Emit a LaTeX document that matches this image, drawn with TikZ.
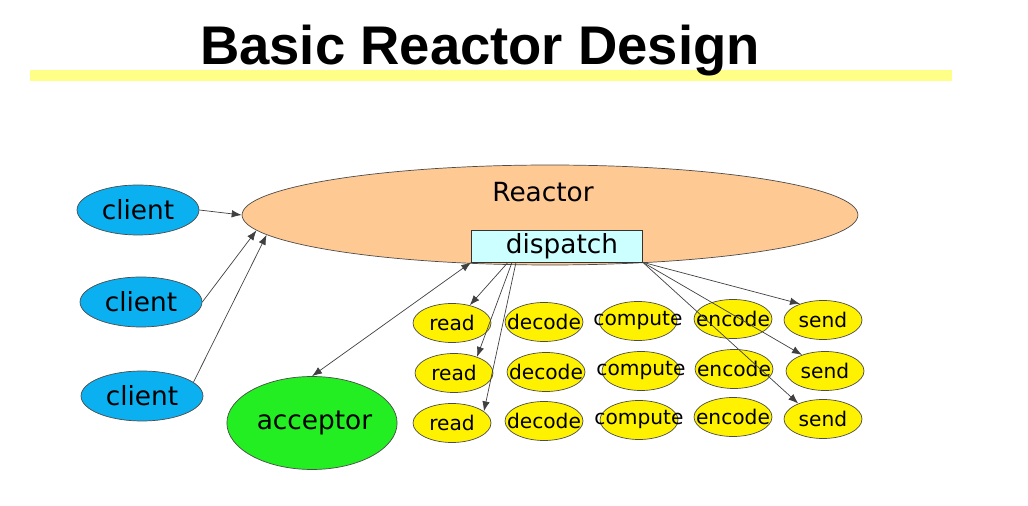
\documentclass[tikz,border=0pt]{standalone}
\usepackage{fontspec}
\setmainfont{DejaVu Sans}
\newfontfamily\titlefont{Liberation Sans}
\usetikzlibrary{arrows.meta,shapes.geometric}
\definecolor{clientblue}{HTML}{0AB0F0}
\definecolor{reactorpeach}{HTML}{FFC993}
\definecolor{dispatchcyan}{HTML}{CCFFFF}
\definecolor{acceptorgreen}{HTML}{22EE22}
\definecolor{titlebar}{HTML}{FFFF88}

\begin{document}
\begin{tikzpicture}[
 x=0.02cm, y=-0.02cm,
 bigtext/.style={font=\fontsize{15}{18}\selectfont},
 client/.style={ellipse,draw=black!70,fill=clientblue,minimum width=2.44cm,minimum height=1cm,inner sep=0pt,bigtext},
 worker/.style={ellipse,draw=black!70,fill=yellow,minimum width=1.56cm,minimum height=0.78cm,inner sep=0pt,
   label={[font=\fontsize{11.5}{13}\selectfont]center:#1}},
 arr/.style={-{Latex[length=2mm,width=1.5mm]},draw=black!75},
 arrboth/.style={{Latex[length=2mm,width=1.5mm]}-{Latex[length=2mm,width=1.5mm]},draw=black!75}
]
\path[use as bounding box] (0,0) rectangle (1028,506);

% title
\fill[titlebar] (30,70) rectangle (952,81);
\node[anchor=base,font=\titlefont\bfseries\fontsize{31}{36}\selectfont] (title) at (480,65) {Basic Reactor Design};

% reactor and dispatcher
\node[ellipse,draw=black!70,fill=reactorpeach,minimum width=12.32cm,minimum height=2cm] (reactor) at (550,215) {};
\node[anchor=base,bigtext] (reactorname) at (543,202) {Reactor};
\node[draw=black!80,fill=dispatchcyan,minimum width=3.42cm,minimum height=0.64cm,inner sep=0pt,bigtext] (dispatch) at (557,246) {\hspace{0.2cm}dispatch};

% clients
\node[client] (client1) at (138,210) {client};
\node[client] (client2) at (141,302) {client};
\node[client] (client3) at (142,396) {client};

% acceptor
\node[ellipse,draw=black!70,fill=acceptorgreen,minimum width=3.18cm,minimum height=1.86cm,inner sep=0pt,bigtext] (acceptor) at (312,423) {\hspace{0.1cm}acceptor};

% handlers
\node[worker=read] (read1) at (452,323) {};
\node[worker=decode] (decode1) at (544,322) {};
\node[worker=compute] (compute1) at (638,321) {};
\node[worker=encode] (encode1) at (733,319) {};
\node[worker=send] (send1) at (823,320) {};

\node[worker=read] (read2) at (454,373) {};
\node[worker=decode] (decode2) at (546,372) {};
\node[worker=compute] (compute2) at (641,371) {};
\node[worker=encode] (encode2) at (734,369) {};
\node[worker=send] (send2) at (825,371) {};

\node[worker=read] (read3) at (452,423) {};
\node[worker=decode] (decode3) at (544,421) {};
\node[worker=compute] (compute3) at (639,420) {};
\node[worker=encode] (encode3) at (733,417) {};
\node[worker=send] (send3) at (823,419) {};

% connections
\draw[arr] (client1.east) -- (reactor.west);
\draw[arr] (client2.east) -- (reactor.183);
\draw[arr] (client3.15) -- (reactor.184.5);
\draw[arrboth] (dispatch.south west) -- (acceptor.north);
\draw[arr] ([xshift=-0.98cm]dispatch.south) -- (read1.45);
\draw[arr] ([xshift=-0.9cm]dispatch.south) -- (read2.35);
\draw[arr] ([xshift=-0.82cm]dispatch.south) -- (read3.20);
\draw[arr] (dispatch.south east) -- (send1.145);
\draw[arr] (dispatch.south east) -- (send2.145);
\draw[arr] (dispatch.south east) -- (send3.148);
\end{tikzpicture}
\end{document}
